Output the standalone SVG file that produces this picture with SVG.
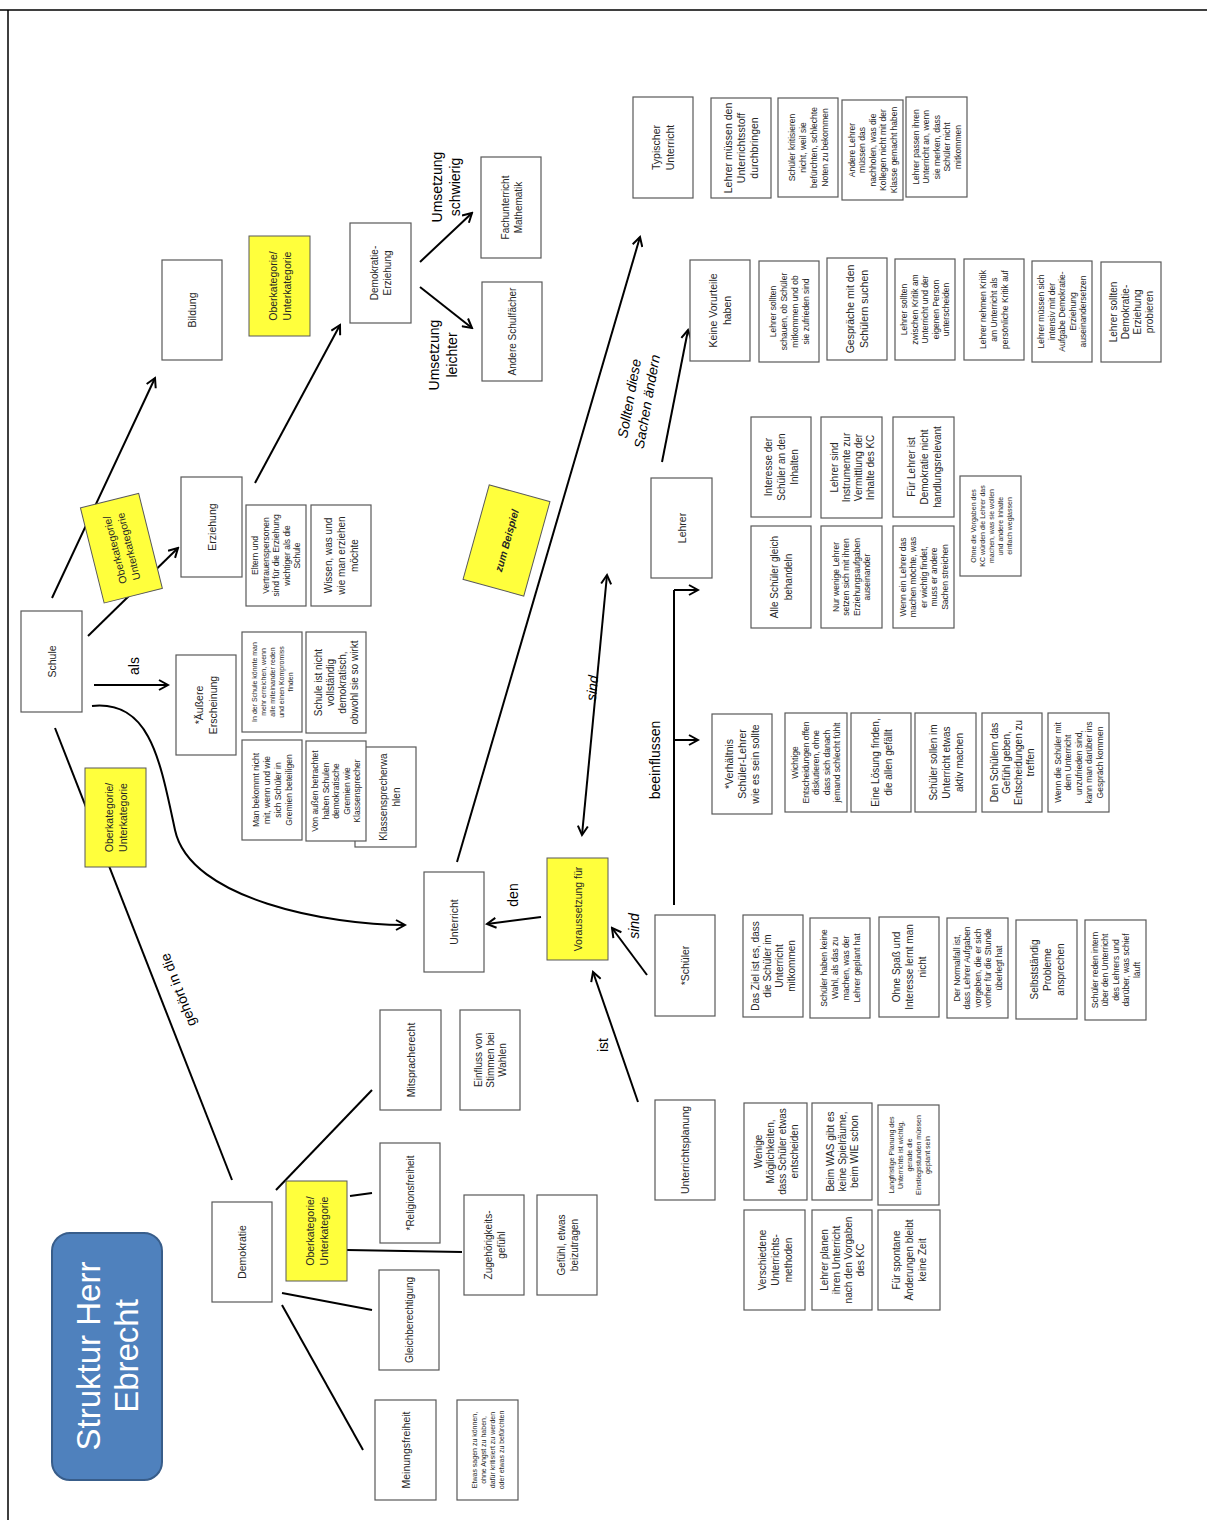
<svg xmlns="http://www.w3.org/2000/svg" width="1207" height="1520" viewBox="0 0 1207 1520">
<defs>
<marker id="ah" viewBox="0 0 12 12" refX="10" refY="6" markerWidth="6" markerHeight="6" orient="auto-start-reverse" markerUnits="strokeWidth">
<path d="M1,1 L10,6 L1,11" fill="none" stroke="#000" stroke-width="2"/>
</marker>
<style>
.b{fill:#fff;stroke:#595959;stroke-width:1.2}
.y{fill:#ffff3c;stroke:#595959;stroke-width:1}
.t{font-family:"Liberation Sans",Arial,sans-serif;font-size:10px;fill:#262626;text-anchor:middle;dominant-baseline:central}
.s{font-size:8.5px}
.xs{font-size:7px}
.m{font-size:10.5px}
.lb{font-family:"Liberation Sans",Arial,sans-serif;font-size:14px;fill:#000;text-anchor:middle;dominant-baseline:central}
.it{font-style:italic}
.c{fill:none;stroke:#000;stroke-width:2}
</style>
</defs>
<rect width="1207" height="1520" fill="#fff"/>
<path d="M0,10 H1207 M8,10 V1520" stroke="#000" stroke-width="1.5" fill="none"/>

<g id="connectors">
<path class="c" d="M52,598 L155,378" marker-end="url(#ah)"/>
<path class="c" d="M88,636 L178,548" marker-end="url(#ah)"/>
<path class="c" d="M255,483 L340,325" marker-end="url(#ah)"/>
<path class="c" d="M420,262 L472,213" marker-end="url(#ah)"/>
<path class="c" d="M420,287 L472,328" marker-end="url(#ah)"/>
<path class="c" d="M94,685 L168,685" marker-end="url(#ah)"/>
<path class="c" d="M92,706 C150,700 160,760 175,830 C190,900 330,925 405,925" marker-end="url(#ah)"/>
<path class="c" d="M55,728 L232,1180"/>
<path class="c" d="M457,862 L640,237" marker-end="url(#ah)"/>
<path class="c" d="M541,917 L487,924" marker-end="url(#ah)"/>
<path class="c" d="M647,975 L612,928" marker-end="url(#ah)"/>
<path class="c" d="M638,1102 L593,972" marker-end="url(#ah)"/>
<path class="c" d="M607,575 L582,835" marker-start="url(#ah)" marker-end="url(#ah)"/>
<path class="c" d="M674,905 L674,590"/>
<path class="c" d="M674,740 L698,740" marker-end="url(#ah)"/>
<path class="c" d="M674,590 L698,590" marker-end="url(#ah)"/>
<path class="c" d="M662,462 L688,330" marker-end="url(#ah)"/>
<path class="c" d="M276,1190 L372,1090"/>
<path class="c" d="M350,1196 L372,1193"/>
<path class="c" d="M347,1250 L462,1252"/>
<path class="c" d="M282,1293 L372,1310"/>
<path class="c" d="M282,1305 L363,1450"/>
</g>

<g id="labels">
<text class="lb" transform="translate(134,666) rotate(-90)">als</text>
<text class="lb" transform="translate(446,187) rotate(-90)"><tspan x="0" dy="-9">Umsetzung</tspan><tspan x="0" dy="18">schwierig</tspan></text>
<text class="lb" transform="translate(443,355) rotate(-90)"><tspan x="0" dy="-9">Umsetzung</tspan><tspan x="0" dy="18">leichter</tspan></text>
<text class="lb" transform="translate(178,990) rotate(-111)">gehört in die</text>
<text class="lb" transform="translate(513,895) rotate(-90)">den</text>
<text class="lb it" transform="translate(634,926) rotate(-90)">sind</text>
<text class="lb" transform="translate(603,1045) rotate(-90)">ist</text>
<text class="lb it" transform="translate(592,688) rotate(-85)">sind</text>
<text class="lb" transform="translate(655,760) rotate(-90)">beeinflussen</text>
<text class="lb it" transform="translate(638,400) rotate(-80)"><tspan x="0" dy="-9">Sollten diese</tspan><tspan x="0" dy="18">Sachen ändern</tspan></text>
</g>

<g id="title">
<rect x="52" y="1233" width="110" height="247" rx="18" fill="#4f81bd" stroke="#385d8a" stroke-width="2"/>
<text transform="translate(107,1356) rotate(-90)" font-family="Liberation Sans,Arial,sans-serif" font-size="33" fill="#fff" text-anchor="middle" dominant-baseline="central"><tspan x="0" dy="-19">Struktur Herr</tspan><tspan x="0" dy="38">Ebrecht</tspan></text>
</g>

<g id="n-typisch"><rect class="b" x="633" y="97" width="60" height="101"/><text class="t m" transform="translate(663,147.5) rotate(-90)"><tspan x="0" dy="-7">Typischer</tspan><tspan x="0" dy="14">Unterricht</tspan></text></g>
<g id="n-stoff"><rect class="b" x="711" y="98" width="60" height="100"/><text class="t m" transform="translate(741,148) rotate(-90)"><tspan x="0" dy="-13">Lehrer  müssen den</tspan><tspan x="0" dy="13">Unterrichtsstoff</tspan><tspan x="0" dy="13">durchbringen</tspan></text></g>
<g id="n-kritisieren"><rect class="b" x="778" y="98" width="60" height="99"/><text class="t s" transform="translate(808,147.5) rotate(-90)"><tspan x="0" dy="-16.5">Schüler kritisieren</tspan><tspan x="0" dy="11">nicht, weil sie</tspan><tspan x="0" dy="11">befürchten, schlechte</tspan><tspan x="0" dy="11">Noten zu bekommen</tspan></text></g>
<g id="n-nachholen"><rect class="b" x="842" y="100" width="61" height="100"/><text class="t s" transform="translate(872.5,150) rotate(-90)"><tspan x="0" dy="-21">Andere Lehrer</tspan><tspan x="0" dy="10.5">müssen das</tspan><tspan x="0" dy="10.5">nachholen, was die</tspan><tspan x="0" dy="10.5">Kollegen nicht mit der</tspan><tspan x="0" dy="10.5">Klasse gemacht haben</tspan></text></g>
<g id="n-anpassen"><rect class="b" x="906" y="97" width="61" height="100"/><text class="t s" transform="translate(936.5,147) rotate(-90)"><tspan x="0" dy="-21">Lehrer passen ihren</tspan><tspan x="0" dy="10.5">Unterricht an, wenn</tspan><tspan x="0" dy="10.5">sie merken, dass</tspan><tspan x="0" dy="10.5">Schüler nicht</tspan><tspan x="0" dy="10.5">mitkommen</tspan></text></g>

<g id="n-vorurteile"><rect class="b" x="690" y="260" width="60" height="101"/><text class="t m" transform="translate(720,310.5) rotate(-90)"><tspan x="0" dy="-7">Keine Vorurteile</tspan><tspan x="0" dy="14">haben</tspan></text></g>
<g id="n-schauen"><rect class="b" x="759" y="261" width="60" height="101"/><text class="t s" transform="translate(789,311.5) rotate(-90)"><tspan x="0" dy="-16.5">Lehrer sollten</tspan><tspan x="0" dy="11">schauen, ob Schüler</tspan><tspan x="0" dy="11">mitkommen und ob</tspan><tspan x="0" dy="11">sie zufrieden sind</tspan></text></g>
<g id="n-gespraeche"><rect class="b" x="827" y="258" width="60" height="102"/><text class="t m" transform="translate(857,309) rotate(-90)"><tspan x="0" dy="-7">Gespräche  mit den</tspan><tspan x="0" dy="14">Schülern  suchen</tspan></text></g>
<g id="n-unterscheiden"><rect class="b" x="895" y="259" width="60" height="101"/><text class="t s" transform="translate(925,309.5) rotate(-90)"><tspan x="0" dy="-21">Lehrer sollten</tspan><tspan x="0" dy="10.5">zwischen Kritik am</tspan><tspan x="0" dy="10.5">Unterricht und der</tspan><tspan x="0" dy="10.5">eigenen Person</tspan><tspan x="0" dy="10.5">unterscheiden</tspan></text></g>
<g id="n-kritik"><rect class="b" x="964" y="259" width="60" height="101"/><text class="t s" transform="translate(994,309.5) rotate(-90)"><tspan x="0" dy="-11">Lehrer nehmen Kritik</tspan><tspan x="0" dy="11">am Unterricht als</tspan><tspan x="0" dy="11">persönliche Kritik auf</tspan></text></g>
<g id="n-intensiv"><rect class="b" x="1032" y="261" width="60" height="101"/><text class="t s" transform="translate(1062,311.5) rotate(-90)"><tspan x="0" dy="-21">Lehrer müssen sich</tspan><tspan x="0" dy="10.5">intensiv mit der</tspan><tspan x="0" dy="10.5">Aufgabe Demokratie-</tspan><tspan x="0" dy="10.5">Erziehung</tspan><tspan x="0" dy="10.5">auseinandersetzen</tspan></text></g>
<g id="n-probieren"><rect class="b" x="1101" y="262" width="60" height="100"/><text class="t" transform="translate(1131,312) rotate(-90)"><tspan x="0" dy="-18">Lehrer sollten</tspan><tspan x="0" dy="12">Demokratie-</tspan><tspan x="0" dy="12">Erziehung</tspan><tspan x="0" dy="12">probieren</tspan></text></g>

<g id="n-interesse"><rect class="b" x="751" y="417" width="60" height="100"/><text class="t" transform="translate(781,467) rotate(-90)"><tspan x="0" dy="-13">Interesse  der</tspan><tspan x="0" dy="13">Schüler an den</tspan><tspan x="0" dy="13">Inhalten</tspan></text></g>
<g id="n-instrumente"><rect class="b" x="821" y="417" width="61" height="101"/><text class="t" transform="translate(851.5,467.5) rotate(-90)"><tspan x="0" dy="-18">Lehrer sind</tspan><tspan x="0" dy="12">Instrumente  zur</tspan><tspan x="0" dy="12">Vermittlung der</tspan><tspan x="0" dy="12">Inhalte des KC</tspan></text></g>
<g id="n-relevant"><rect class="b" x="893" y="417" width="61" height="100"/><text class="t" transform="translate(923.5,467) rotate(-90)"><tspan x="0" dy="-13">Für Lehrer ist</tspan><tspan x="0" dy="13">Demokratie nicht</tspan><tspan x="0" dy="13">handlungsrelevant</tspan></text></g>
<g id="n-gleich"><rect class="b" x="751" y="526" width="60" height="102"/><text class="t" transform="translate(781,577) rotate(-90)"><tspan x="0" dy="-7">Alle Schüler  gleich</tspan><tspan x="0" dy="14">behandeln</tspan></text></g>
<g id="n-wenige"><rect class="b" x="821" y="526" width="61" height="102"/><text class="t s" transform="translate(851.5,577) rotate(-90)"><tspan x="0" dy="-16">Nur wenige Lehrer</tspan><tspan x="0" dy="10.5">setzen sich mit ihren</tspan><tspan x="0" dy="10.5">Erziehungsaufgaben</tspan><tspan x="0" dy="10.5">auseinander</tspan></text></g>
<g id="n-streichen"><rect class="b" x="893" y="526" width="61" height="102"/><text class="t s" transform="translate(923.5,577) rotate(-90)"><tspan x="0" dy="-21">Wenn ein Lehrer das</tspan><tspan x="0" dy="10.5">machen möchte, was</tspan><tspan x="0" dy="10.5">er wichtig findet,</tspan><tspan x="0" dy="10.5">muss er andere</tspan><tspan x="0" dy="10.5">Sachen streichen</tspan></text></g>
<g id="n-vorgaben"><rect class="b" x="960" y="476" width="61" height="100"/><text class="t xs" transform="translate(990.5,526) rotate(-90)"><tspan x="0" dy="-18">Ohne die Vorgaben des</tspan><tspan x="0" dy="9">KC würden die Lehrer das</tspan><tspan x="0" dy="9">machen, was sie wollen</tspan><tspan x="0" dy="9">und andere Inhalte</tspan><tspan x="0" dy="9">einfach weglassen</tspan></text></g>
<g id="n-lehrer"><rect class="b" x="651" y="478" width="61" height="100"/><text class="t m" transform="translate(681.5,528) rotate(-90)">Lehrer</text></g>

<g id="n-verhaeltnis"><rect class="b" x="712" y="714" width="60" height="100"/><text class="t m" transform="translate(742,764) rotate(-90)"><tspan x="0" dy="-13">*Verhältnis</tspan><tspan x="0" dy="13">Schüler-Lehrer</tspan><tspan x="0" dy="13">wie es sein sollte</tspan></text></g>
<g id="n-wichtige"><rect class="b" x="785" y="713" width="62" height="99"/><text class="t s" transform="translate(816,762.5) rotate(-90)"><tspan x="0" dy="-21">Wichtige</tspan><tspan x="0" dy="10.5">Entscheidungen offen</tspan><tspan x="0" dy="10.5">diskutieren, ohne</tspan><tspan x="0" dy="10.5">dass sich danach</tspan><tspan x="0" dy="10.5">jemand schlecht fühlt</tspan></text></g>
<g id="n-loesung"><rect class="b" x="851" y="713" width="60" height="99"/><text class="t" transform="translate(881,762.5) rotate(-90)"><tspan x="0" dy="-6.5">Eine Lösung  finden,</tspan><tspan x="0" dy="13">die allen gefällt</tspan></text></g>
<g id="n-aktiv"><rect class="b" x="915" y="713" width="61" height="99"/><text class="t" transform="translate(945.5,762.5) rotate(-90)"><tspan x="0" dy="-13">Schüler  sollen im</tspan><tspan x="0" dy="13">Unterricht  etwas</tspan><tspan x="0" dy="13">aktiv machen</tspan></text></g>
<g id="n-gefuehl-geben"><rect class="b" x="982" y="713" width="60" height="99"/><text class="t" transform="translate(1012,762.5) rotate(-90)"><tspan x="0" dy="-18">Den Schülern das</tspan><tspan x="0" dy="12">Gefühl geben,</tspan><tspan x="0" dy="12">Entscheidungen  zu</tspan><tspan x="0" dy="12">treffen</tspan></text></g>
<g id="n-unzufrieden"><rect class="b" x="1048" y="713" width="61" height="99"/><text class="t s" transform="translate(1078.5,762.5) rotate(-90)"><tspan x="0" dy="-21">Wenn die Schüler mit</tspan><tspan x="0" dy="10.5">dem Unterricht</tspan><tspan x="0" dy="10.5">unzufrieden sind,</tspan><tspan x="0" dy="10.5">kann man darüber ins</tspan><tspan x="0" dy="10.5">Gespräch kommen</tspan></text></g>

<g id="n-schueler"><rect class="b" x="655" y="915" width="60" height="101"/><text class="t m" transform="translate(685,965.5) rotate(-90)">*Schüler</text></g>
<g id="n-ziel"><rect class="b" x="743" y="915" width="60" height="102"/><text class="t" transform="translate(773,966) rotate(-90)"><tspan x="0" dy="-18">Das Ziel ist es, dass</tspan><tspan x="0" dy="12">die Schüler im</tspan><tspan x="0" dy="12">Unterricht</tspan><tspan x="0" dy="12">mitkommen</tspan></text></g>
<g id="n-keinewahl"><rect class="b" x="810" y="918" width="60" height="100"/><text class="t s" transform="translate(840,968) rotate(-90)"><tspan x="0" dy="-16.5">Schüler haben keine</tspan><tspan x="0" dy="11">Wahl, als das zu</tspan><tspan x="0" dy="11">machen, was der</tspan><tspan x="0" dy="11">Lehrer geplant hat</tspan></text></g>
<g id="n-spass"><rect class="b" x="879" y="917" width="60" height="100"/><text class="t" transform="translate(909,967) rotate(-90)"><tspan x="0" dy="-13">Ohne Spaß und</tspan><tspan x="0" dy="13">Interesse  lernt man</tspan><tspan x="0" dy="13">nicht</tspan></text></g>
<g id="n-normalfall"><rect class="b" x="947" y="918" width="61" height="100"/><text class="t s" transform="translate(977.5,968) rotate(-90)"><tspan x="0" dy="-21">Der Normalfall ist,</tspan><tspan x="0" dy="10.5">dass Lehrer Aufgaben</tspan><tspan x="0" dy="10.5">vorgeben, die er sich</tspan><tspan x="0" dy="10.5">vorher für die Stunde</tspan><tspan x="0" dy="10.5">überlegt hat</tspan></text></g>
<g id="n-selbst"><rect class="b" x="1016" y="920" width="61" height="99"/><text class="t" transform="translate(1046.5,969.5) rotate(-90)"><tspan x="0" dy="-13">Selbstständig</tspan><tspan x="0" dy="13">Probleme</tspan><tspan x="0" dy="13">ansprechen</tspan></text></g>
<g id="n-intern"><rect class="b" x="1085" y="920" width="61" height="100"/><text class="t s" transform="translate(1115.5,970) rotate(-90)"><tspan x="0" dy="-21">Schüler reden intern</tspan><tspan x="0" dy="10.5">über den Unterricht</tspan><tspan x="0" dy="10.5">des Lehrers und</tspan><tspan x="0" dy="10.5">darüber, was schief</tspan><tspan x="0" dy="10.5">läuft</tspan></text></g>

<g id="n-planung"><rect class="b" x="655" y="1100" width="60" height="100"/><text class="t m" transform="translate(685,1150) rotate(-90)">Unterrichtsplanung</text></g>
<g id="n-moeglichkeiten"><rect class="b" x="744" y="1103" width="63" height="97"/><text class="t" transform="translate(775.5,1151.5) rotate(-90)"><tspan x="0" dy="-18">Wenige</tspan><tspan x="0" dy="12">Möglichkeiten,</tspan><tspan x="0" dy="12">dass Schüler etwas</tspan><tspan x="0" dy="12">entscheiden</tspan></text></g>
<g id="n-was"><rect class="b" x="812" y="1103" width="60" height="97"/><text class="t" transform="translate(842,1151.5) rotate(-90)"><tspan x="0" dy="-12">Beim WAS gibt es</tspan><tspan x="0" dy="12">keine Spielräume,</tspan><tspan x="0" dy="12">beim WIE schon</tspan></text></g>
<g id="n-langfristig"><rect class="b" x="878" y="1105" width="61" height="100"/><text class="t xs" transform="translate(908.5,1155) rotate(-90)"><tspan x="0" dy="-18">Langfristige Planung des</tspan><tspan x="0" dy="9">Unterrichts ist wichtig,</tspan><tspan x="0" dy="9">gerade die</tspan><tspan x="0" dy="9">Einstiegsstunden müssen</tspan><tspan x="0" dy="9">geplant sein</tspan></text></g>
<g id="n-methoden"><rect class="b" x="744" y="1210" width="61" height="100"/><text class="t" transform="translate(774.5,1260) rotate(-90)"><tspan x="0" dy="-13">Verschiedene</tspan><tspan x="0" dy="13">Unterrichts-</tspan><tspan x="0" dy="13">methoden</tspan></text></g>
<g id="n-planen"><rect class="b" x="812" y="1210" width="60" height="100"/><text class="t" transform="translate(842,1260) rotate(-90)"><tspan x="0" dy="-18">Lehrer planen</tspan><tspan x="0" dy="12">ihren Unterricht</tspan><tspan x="0" dy="12">nach den Vorgaben</tspan><tspan x="0" dy="12">des KC</tspan></text></g>
<g id="n-spontan"><rect class="b" x="878" y="1210" width="62" height="100"/><text class="t" transform="translate(909,1260) rotate(-90)"><tspan x="0" dy="-13">Für spontane</tspan><tspan x="0" dy="13">Änderungen  bleibt</tspan><tspan x="0" dy="13">keine Zeit</tspan></text></g>

<g id="n-voraussetzung"><rect class="y" x="547" y="858" width="61" height="102"/><text class="t m" transform="translate(577.5,909) rotate(-90)">Voraussetzung  für</text></g>
<g id="n-unterricht"><rect class="b" x="424" y="872" width="60" height="100"/><text class="t m" transform="translate(454,922) rotate(-90)">Unterricht</text></g>
<g id="n-beispiel"><g transform="translate(506.5,540.5) rotate(15.5)"><rect class="y" x="-31.5" y="-49" width="63" height="98"/><text class="t m" font-weight="bold" font-style="italic" transform="rotate(-90)">zum Beispiel</text></g></g>

<g id="n-schule"><rect class="b" x="21" y="611" width="61" height="101"/><text class="t m" transform="translate(51.5,661.5) rotate(-90)">Schule</text></g>
<g id="n-erziehung"><rect class="b" x="181" y="477" width="61" height="100"/><text class="t m" transform="translate(211.5,527) rotate(-90)">Erziehung</text></g>
<g id="n-bildung"><rect class="b" x="162" y="260" width="60" height="100"/><text class="t m" transform="translate(192,310) rotate(-90)">Bildung</text></g>
<g id="n-ober1"><rect class="y" x="249" y="236" width="61" height="100"/><text class="t m" transform="translate(279.5,286) rotate(-90)"><tspan x="0" dy="-7">Oberkategorie/</tspan><tspan x="0" dy="14">Unterkategorie</tspan></text></g>
<g id="n-demerz"><rect class="b" x="350" y="223" width="61" height="100"/><text class="t" transform="translate(380.5,273) rotate(-90)"><tspan x="0" dy="-6.5">Demokratie-</tspan><tspan x="0" dy="13">Erziehung</tspan></text></g>
<g id="n-mathe"><rect class="b" x="481" y="157" width="60" height="101"/><text class="t" transform="translate(511,207.5) rotate(-90)"><tspan x="0" dy="-6.5">Fachunterricht</tspan><tspan x="0" dy="13">Mathematik</tspan></text></g>
<g id="n-andere"><rect class="b" x="482" y="282" width="60" height="99"/><text class="t" transform="translate(512,331.5) rotate(-90)">Andere Schulfächer</text></g>
<g id="n-ober2"><g transform="translate(121.4,548.2) rotate(-14)"><rect class="y" x="-30" y="-49" width="60" height="98"/><text class="t m" transform="rotate(-90)"><tspan x="0" dy="-7">Oberkategorie/</tspan><tspan x="0" dy="14">Unterkategorie</tspan></text></g></g>
<g id="n-ober3"><rect class="y" x="85" y="768" width="61" height="99"/><text class="t m" transform="translate(115.5,817.5) rotate(-90)"><tspan x="0" dy="-7">Oberkategorie/</tspan><tspan x="0" dy="14">Unterkategorie</tspan></text></g>
<g id="n-aeussere"><rect class="b" x="176" y="655" width="60" height="100"/><text class="t m" transform="translate(206,705) rotate(-90)"><tspan x="0" dy="-7">*Äußere</tspan><tspan x="0" dy="14">Erscheinung</tspan></text></g>
<g id="n-kompromiss"><rect class="b" x="242" y="632" width="60" height="100"/><text class="t xs" transform="translate(272,682) rotate(-90)"><tspan x="0" dy="-18">In der Schule könnte man</tspan><tspan x="0" dy="9">mehr erreichen, wenn</tspan><tspan x="0" dy="9">alle miteinander reden</tspan><tspan x="0" dy="9">und einen Kompromiss</tspan><tspan x="0" dy="9">finden</tspan></text></g>
<g id="n-nichtdemo"><rect class="b" x="306" y="632" width="60" height="101"/><text class="t" transform="translate(336,682.5) rotate(-90)"><tspan x="0" dy="-18">Schule ist nicht</tspan><tspan x="0" dy="12">vollständig</tspan><tspan x="0" dy="12">demokratisch,</tspan><tspan x="0" dy="12">obwohl sie so wirkt</tspan></text></g>
<g id="n-gremien"><rect class="b" x="242" y="740" width="60" height="100"/><text class="t s" transform="translate(272,790) rotate(-90)"><tspan x="0" dy="-16.5">Man bekommt nicht</tspan><tspan x="0" dy="11">mit, wenn und wie</tspan><tspan x="0" dy="11">sich Schüler in</tspan><tspan x="0" dy="11">Gremien beteiligen</tspan></text></g>
<g id="n-wahlen"><rect class="b" x="355" y="747" width="61" height="100"/><text class="t" transform="translate(389,797) rotate(-90)"><tspan x="0" dy="-6.5">Klassensprecherwa</tspan><tspan x="0" dy="13">hlen</tspan></text></g>
<g id="n-aussen"><rect class="b" x="306" y="741" width="60" height="100"/><text class="t s" transform="translate(336,791) rotate(-90)"><tspan x="0" dy="-21">Von außen betrachtet</tspan><tspan x="0" dy="10.5">haben Schulen</tspan><tspan x="0" dy="10.5">demokratische</tspan><tspan x="0" dy="10.5">Gremien wie</tspan><tspan x="0" dy="10.5">Klassensprecher</tspan></text></g>
<g id="n-eltern"><rect class="b" x="246" y="505" width="60" height="101"/><text class="t s" transform="translate(276,555.5) rotate(-90)"><tspan x="0" dy="-21">Eltern und</tspan><tspan x="0" dy="10.5">Vertrauenspersonen</tspan><tspan x="0" dy="10.5">sind für die Erziehung</tspan><tspan x="0" dy="10.5">wichtiger als die</tspan><tspan x="0" dy="10.5">Schule</tspan></text></g>
<g id="n-wissen"><rect class="b" x="311" y="505" width="60" height="101"/><text class="t" transform="translate(341,555.5) rotate(-90)"><tspan x="0" dy="-13">Wissen, was und</tspan><tspan x="0" dy="13">wie man erziehen</tspan><tspan x="0" dy="13">möchte</tspan></text></g>

<g id="n-demokratie"><rect class="b" x="212" y="1202" width="60" height="100"/><text class="t m" transform="translate(242,1252) rotate(-90)">Demokratie</text></g>
<g id="n-ober4"><rect class="y" x="286" y="1181" width="61" height="100"/><text class="t m" transform="translate(316.5,1231) rotate(-90)"><tspan x="0" dy="-7">Oberkategorie/</tspan><tspan x="0" dy="14">Unterkategorie</tspan></text></g>
<g id="n-mitsprache"><rect class="b" x="380" y="1010" width="61" height="100"/><text class="t m" transform="translate(410.5,1060) rotate(-90)">Mitspracherecht</text></g>
<g id="n-einfluss"><rect class="b" x="460" y="1010" width="60" height="100"/><text class="t" transform="translate(490,1060) rotate(-90)"><tspan x="0" dy="-12">Einfluss von</tspan><tspan x="0" dy="12">Stimmen bei</tspan><tspan x="0" dy="12">Wahlen</tspan></text></g>
<g id="n-religion"><rect class="b" x="380" y="1143" width="60" height="100"/><text class="t" transform="translate(410,1193) rotate(-90)">*Religionsfreiheit</text></g>
<g id="n-zugehoerig"><rect class="b" x="464" y="1195" width="60" height="100"/><text class="t" transform="translate(494,1245) rotate(-90)"><tspan x="0" dy="-6.5">Zugehörigkeits-</tspan><tspan x="0" dy="13">gefühl</tspan></text></g>
<g id="n-beitragen"><rect class="b" x="537" y="1195" width="60" height="100"/><text class="t" transform="translate(567,1245) rotate(-90)"><tspan x="0" dy="-6.5">Gefühl, etwas</tspan><tspan x="0" dy="13">beizutragen</tspan></text></g>
<g id="n-gleichber"><rect class="b" x="379" y="1270" width="60" height="100"/><text class="t" transform="translate(409,1320) rotate(-90)">Gleichberechtigung</text></g>
<g id="n-meinung"><rect class="b" x="375" y="1400" width="61" height="100"/><text class="t m" transform="translate(405.5,1450) rotate(-90)">Meinungsfreiheit</text></g>
<g id="n-angst"><rect class="b" x="457" y="1400" width="61" height="100"/><text class="t xs" transform="translate(487.5,1450) rotate(-90)"><tspan x="0" dy="-13.5">Etwas sagen zu können,</tspan><tspan x="0" dy="9">ohne Angst zu haben,</tspan><tspan x="0" dy="9">dafür kritisiert zu werden</tspan><tspan x="0" dy="9">oder etwas zu befürchten</tspan></text></g>
</svg>
